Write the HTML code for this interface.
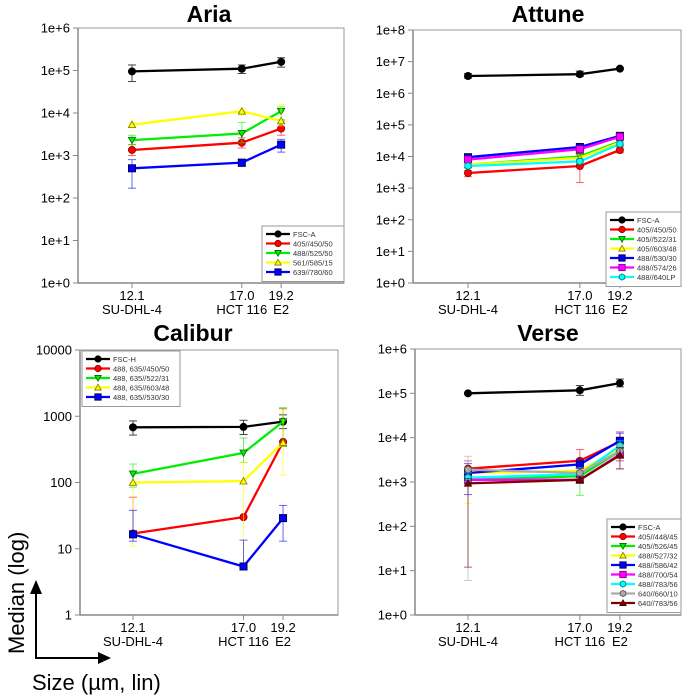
<!DOCTYPE html>
<html><head><meta charset="utf-8">
<style>
html,body{margin:0;padding:0;background:#fff;}
svg{display:block;font-family:"Liberation Sans",sans-serif;}
</style></head>
<body>
<svg id="fig" width="685" height="695" viewBox="0 0 685 695"></svg>
<script>
// ---------- shared data ----------
const sizes = [12.1, 17.0, 19.2];
const cellLines = ["SU-DHL-4", "HCT 116", "E2"];
const sizeLabels = ["12.1", "17.0", "19.2"];

// ---------- Aria ----------
const ariaSeries = ["FSC-A", "405//450/50", "488//525/50", "561//585/15", "639//780/60"];
const ariaValues = [[95000,110000,160000],[1350,2000,4300],[2300,3300,11000],[5300,11000,6500],[500,680,1800]];
const ariaLow = [[55000,85000,120000],[1000,1500,3000],[1800,2000,7000],[4500,9000,5000],[170,550,1200]];
const ariaHigh = [[135000,135000,200000],[1800,2600,6500],[3000,6000,14000],[6000,13000,16000],[800,800,2400]];
const ariaTicks = ["1e+0","1e+1","1e+2","1e+3","1e+4","1e+5","1e+6"];

// ---------- Attune ----------
const attuneSeries = ["FSC-A","405//450/50","405//522/31","405//603/48","488//530/30","488//574/26","488//640LP"];
const attuneValues = [[3500000,4000000,6000000],[3000,5000,16000],[5500,10000,30000],[5500,9000,28000],[9500,20000,45000],[8000,17000,42000],[5000,7000,25000]];
const attuneLow = [[3000000,3400000,5500000],[2300,1500,13000],[4500,8500,25000],[4500,7500,23000],[8000,17000,40000],[6800,14500,37000],[4200,6000,21000]];
const attuneHigh = [[4200000,5000000,6500000],[3600,7000,20000],[6500,12000,36000],[6500,11000,34000],[11500,23000,51000],[9500,20000,48000],[6000,8500,30000]];
const attuneTicks = ["1e+0","1e+1","1e+2","1e+3","1e+4","1e+5","1e+6","1e+7","1e+8"];

// ---------- Calibur ----------
const caliburSeries = ["FSC-H","488, 635//450/50","488, 635//522/31","488, 635//603/48","488, 635//530/30"];
const caliburValues = [[680,690,830],[17,30,410],[135,280,830],[100,105,400],[16.5,5.4,29]];
const caliburLow = [[520,530,650],[17,30,350],[85,200,350],[11,6,130],[13,5.4,13]];
const caliburHigh = [[850,870,1050],[60,30,1300],[190,470,1350],[100,200,1250],[38,13.5,45]];
const caliburTicks = ["1","10","100","1000","10000"];

// ---------- Verse ----------
const verseSeries = ["FSC-A","405//448/45","405//526/45","488//527/32","488//586/42","488//700/54","488//783/56","640//660/10","640//783/56"];
const verseValues = [[100000,117000,170000],[2000,3000,8100],[1120,1350,5000],[1600,1800,5600],[1600,2500,8500],[1120,1120,4200],[1260,1500,6600],[1900,1600,5000],[930,1120,4000]];
const verseLow = [[98000,90000,140000],[1300,2200,5000],[900,500,3000],[330,1500,4000],[520,2000,6000],[900,950,3000],[1000,1200,5000],[6,1200,1900],[12,950,2000]];
const verseHigh = [[102000,150000,210000],[3000,5400,13500],[1400,1800,7000],[2000,2200,8000],[2600,3300,12600],[1400,1300,5500],[1600,1800,8500],[3800,2100,7000],[1200,1300,6000]];
const verseTicks = ["1e+0","1e+1","1e+2","1e+3","1e+4","1e+5","1e+6"];

const NS = "http://www.w3.org/2000/svg";
const svg = document.getElementById("fig");
function mk(tag, attrs, parent){ const e=document.createElementNS(NS,tag); for(const k in attrs) e.setAttribute(k,attrs[k]); (parent||svg).appendChild(e); return e; }

const styles8 = [
  {c:"#000000", m:"circle", e:"#000"},
  {c:"#ff0000", m:"circle", e:"#800"},
  {c:"#00ee00", m:"tdown", e:"#060"},
  {c:"#ffff00", m:"tup", e:"#770"},
  {c:"#0000ff", m:"square", e:"#003"},
  {c:"#ff00ff", m:"square", e:"#707"},
  {c:"#00ffff", m:"hex", e:"#077"},
  {c:"#aaaaaa", m:"hex", e:"#555"},
  {c:"#800000", m:"tup", e:"#400"}
];
const styleCal = [styles8[0], styles8[1], styles8[2], styles8[3], styles8[4]];
const styleAria = [styles8[0], styles8[1], styles8[2], styles8[3], styles8[4]];
const styleAttune = [styles8[0], styles8[1], styles8[2], styles8[3], styles8[4], styles8[5], styles8[6]];

function marker(g, type, x, y, r, fill, edge){
  let e;
  if(type==="circle") e=mk("circle",{cx:x,cy:y,r:r},g);
  else if(type==="square") e=mk("rect",{x:x-r,y:y-r,width:2*r,height:2*r},g);
  else if(type==="tdown") e=mk("polygon",{points:`${x-r},${y-r*0.8} ${x+r},${y-r*0.8} ${x},${y+r}`},g);
  else if(type==="tup") e=mk("polygon",{points:`${x-r},${y+r*0.8} ${x+r},${y+r*0.8} ${x},${y-r}`},g);
  else { const p=[]; for(let i=0;i<6;i++){const a=Math.PI/6+i*Math.PI/3; p.push((x+r*Math.cos(a)).toFixed(1)+","+(y+r*Math.sin(a)).toFixed(1));} e=mk("polygon",{points:p.join(" ")},g); }
  e.setAttribute("fill",fill); e.setAttribute("stroke",edge); e.setAttribute("stroke-width","0.8");
  return e;
}

function panel(cfg){
  const g = mk("g",{});
  
  
  const {L,R,T,B} = cfg;
  const nDec = cfg.ticks.length-1;
  const yS = v => B - (Math.log10(v)-cfg.minExp)/nDec*(B-T);
  const xS = s => cfg.x0 + Math.log(s/sizes[0])*cfg.xk;
  const t = mk("text",{x:cfg.tx,y:cfg.ty,"text-anchor":"middle","font-size":"23","font-weight":"bold",fill:"#000"},g);
  t.textContent = cfg.title;
  
  
  const fr = mk("rect",{x:L,y:T,width:R-L,height:B-T,fill:"none",stroke:"#999","stroke-width":"1"},g);
  
  
  mk("line",{x1:L,y1:T,x2:L,y2:B,stroke:"#888","stroke-width":"1.5"},g);
  mk("line",{x1:L,y1:B,x2:R,y2:B,stroke:"#888","stroke-width":"1.5"},g);
  cfg.ticks.forEach((lab,i)=>{
    const y = B - i/nDec*(B-T);
    mk("line",{x1:L-5,y1:y,x2:L,y2:y,stroke:"#888"},g);
    const tt = mk("text",{x:L-8,y:y+4.5,"text-anchor":"end","font-size":"13",fill:"#000"},g);
    tt.textContent = lab;
    
    
  });
  sizes.forEach((s,i)=>{
    const x = xS(s);
    mk("line",{x1:x,y1:B,x2:x,y2:B+5,stroke:"#888"},g);
    const a = mk("text",{x:x,y:B+17,"text-anchor":"middle","font-size":"13",fill:"#000"},g);
    a.textContent = sizeLabels[i];
    
    
    const b = mk("text",{x:x,y:B+31,"text-anchor":"middle","font-size":"13",fill:"#000"},g);
    b.textContent = cellLines[i];
    
    
  });
  cfg.values.forEach((vals,si)=>{
    const st = cfg.styles[si];
    const sg = mk("g",{},g);
    
    
    vals.forEach((v,i)=>{
      const x=xS(sizes[i]);
      const ylo=yS(cfg.low[si][i]), yhi=yS(cfg.high[si][i]);
      const ec = si===0 ? "#444" : st.c;
      const op = si===0?1:0.6;
      mk("line",{x1:x,y1:ylo,x2:x,y2:yhi,stroke:ec,"stroke-width":"1","stroke-opacity":op},sg);
      mk("line",{x1:x-4,y1:ylo,x2:x+4,y2:ylo,stroke:ec,"stroke-width":"1","stroke-opacity":op},sg);
      mk("line",{x1:x-4,y1:yhi,x2:x+4,y2:yhi,stroke:ec,"stroke-width":"1","stroke-opacity":op},sg);
    });
    const pts = vals.map((v,i)=>xS(sizes[i]).toFixed(1)+","+yS(v).toFixed(1)).join(" ");
    mk("polyline",{points:pts,fill:"none",stroke:st.c,"stroke-width":"2.3"},sg);
    vals.forEach((v,i)=>{
      const m = marker(sg, st.m, xS(sizes[i]), yS(v), 3.6, st.c, st.e);
      
      
    });
  });
  const lg = mk("g",{},g);
  
  
  const n = cfg.series.length, step=9.5;
  mk("rect",{x:cfg.lx,y:cfg.ly,width:cfg.lw,height:n*step+8,fill:"#fff",stroke:"#999","stroke-width":"1"},lg);
  cfg.series.forEach((name,i)=>{
    const y = cfg.ly+8+i*step;
    const st = cfg.styles[i];
    const eg = mk("g",{},lg);
    
    
    mk("line",{x1:cfg.lx+4,y1:y,x2:cfg.lx+28,y2:y,stroke:st.c,"stroke-width":"2.3"},eg);
    marker(eg, st.m, cfg.lx+16, y, 3.2, st.c, st.e);
    const tx = mk("text",{x:cfg.lx+31,y:y+3,"font-size":"7.5",fill:"#333"},eg);
    tx.textContent = name;
  });
}

panel({name:"aria",title:"Aria",tx:209,ty:22,L:78,R:344,T:28,B:283,minExp:0,ticks:ariaTicks,x0:132,xk:323,
  series:ariaSeries,values:ariaValues,low:ariaLow,high:ariaHigh,styles:styleAria,lx:262,ly:226,lw:82});
panel({name:"attune",title:"Attune",tx:548,ty:22,L:413,R:681,T:30,B:283,minExp:0,ticks:attuneTicks,x0:468,xk:329,
  series:attuneSeries,values:attuneValues,low:attuneLow,high:attuneHigh,styles:styleAttune,lx:606,ly:212,lw:75});
panel({name:"calibur",title:"Calibur",tx:193,ty:341,L:80,R:338,T:350,B:615,minExp:0,ticks:caliburTicks,x0:133,xk:325,
  series:caliburSeries,values:caliburValues,low:caliburLow,high:caliburHigh,styles:styleCal,lx:82,ly:351,lw:98});
panel({name:"verse",title:"Verse",tx:548,ty:341,L:415,R:681,T:349,B:615,minExp:0,ticks:verseTicks,x0:468,xk:329,
  series:verseSeries,values:verseValues,low:verseLow,high:verseHigh,styles:styles8,lx:607,ly:519,lw:74});

const ann = mk("g",{});


mk("line",{x1:36,y1:658,x2:36,y2:592,stroke:"#000","stroke-width":"2"},ann);
mk("polygon",{points:"30,594 42,594 36,580",fill:"#000"},ann);
mk("line",{x1:35,y1:658,x2:100,y2:658,stroke:"#000","stroke-width":"2"},ann);
mk("polygon",{points:"98,652 98,664 111,658",fill:"#000"},ann);
const yl = mk("text",{x:0,y:0,"font-size":"22",fill:"#000",transform:"translate(24,654) rotate(-90)"},ann);
yl.textContent = "Median (log)";


const xl = mk("text",{x:32,y:690,"font-size":"22",fill:"#000"},ann);
xl.textContent = "Size (µm, lin)";


</script>
</body></html>
